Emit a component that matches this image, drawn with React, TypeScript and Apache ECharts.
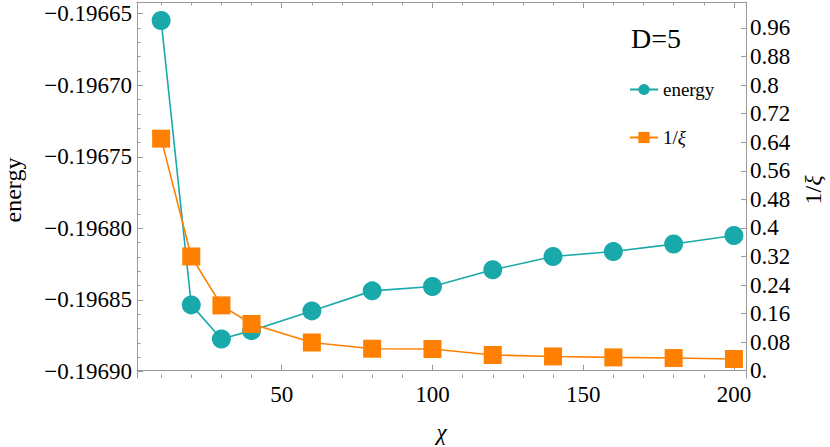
import React, { useEffect, useRef } from "react";
import * as echarts from "echarts";

const chi = [10, 20, 30, 40, 60, 80, 100, 120, 140, 160, 180, 200];
const energy = [
  -0.1966547, -0.1968535, -0.1968773, -0.1968715, -0.1968577, -0.1968437,
  -0.1968407, -0.196829, -0.1968197, -0.1968162, -0.196811, -0.196805,
];
const invXi = [0.65, 0.32, 0.183, 0.131, 0.079, 0.0616, 0.0608, 0.044, 0.04, 0.0373, 0.0355, 0.0328];

const xMajorTicks = [50, 100, 150, 200];
const xMinorTicks = [10, 20, 30, 40, 60, 70, 80, 90, 110, 120, 130, 140, 160, 170, 180, 190];
const energyMajorTicks = [-0.1969, -0.19685, -0.1968, -0.19675, -0.1967, -0.19665];
const energyMinorTicks = [
  -0.19689, -0.19688, -0.19687, -0.19686, -0.19684, -0.19683, -0.19682, -0.19681,
  -0.19679, -0.19678, -0.19677, -0.19676, -0.19674, -0.19673, -0.19672, -0.19671,
  -0.19669, -0.19668, -0.19667, -0.19666,
];
const xiTicks = [0, 0.08, 0.16, 0.24, 0.32, 0.4, 0.48, 0.56, 0.64, 0.72, 0.8, 0.88, 0.96];
const xiTickLabels = ["0.", "0.08", "0.16", "0.24", "0.32", "0.4", "0.48", "0.56", "0.64", "0.72", "0.8", "0.88", "0.96"];

const FONT = "Liberation Serif";
const AXIS_COLOR = "#9a9a9a";
const TEAL = "#1aa9aa";
const ORANGE = "#ff8000";
const TICK_FONT = 23;

export default function App() {
  const ref = useRef<HTMLDivElement>(null);
  useEffect(() => {
    document.body.style.margin = "0";
    if (!ref.current) return;
    const chart = echarts.init(ref.current, null, { renderer: "svg" });
    const xRange = { min: 2, max: 204 };
    const eRange = { min: -0.1969046, max: -0.1966418 };
    const xiRange = { min: -0.0204, max: 1.0328 };
    const hiddenLabel = { show: false };
    const line = { show: true, lineStyle: { color: AXIS_COLOR, width: 1 } };
    const minorX = (position: string) => ({
      type: "value",
      position,
      ...xRange,
      axisLine: { show: false },
      axisTick: { show: true, inside: true, length: 3.5, customValues: xMinorTicks, lineStyle: { color: AXIS_COLOR } },
      axisLabel: hiddenLabel,
      splitLine: { show: false },
    });
    chart.setOption({
      animation: false,
      backgroundColor: "#ffffff",
      textStyle: { fontFamily: FONT },
      title: {
        text: "D=5",
        left: 626,
        top: 19,
        textStyle: { fontFamily: FONT, fontSize: 28, fontWeight: "normal", color: "#000" },
      },
      legend: {
        orient: "vertical",
        left: 624,
        top: 75,
        itemWidth: 28,
        itemHeight: 14,
        itemGap: 29,
        textStyle: {
          fontFamily: FONT,
          fontSize: 19,
          color: "#000",
          rich: {
            n: { fontFamily: FONT, fontSize: 19, color: "#000" },
            i: { fontFamily: FONT, fontSize: 19, fontStyle: "italic", color: "#000" },
          },
        },
        formatter: (name: string) => (name === "1/ξ" ? "{n|1/}{i|ξ}" : `{n|${name}}`),
        data: ["energy", "1/ξ"],
      },
      grid: { left: 137, right: 84, top: 2, bottom: 69, containLabel: false, outerBoundsMode: "none" },
      xAxis: [
        {
          type: "value",
          position: "bottom",
          ...xRange,
          name: "χ",
          nameLocation: "middle",
          nameGap: 43,
          nameTextStyle: { fontFamily: FONT, fontSize: 23, fontStyle: "italic", color: "#000" },
          axisLine: line,
          axisTick: { show: true, inside: true, length: 6, customValues: xMajorTicks, lineStyle: { color: AXIS_COLOR } },
          axisLabel: hiddenLabel,
          splitLine: { show: false },
        },
        minorX("bottom"),
        {
          type: "value",
          position: "top",
          ...xRange,
          axisLine: line,
          axisTick: { show: true, inside: true, length: 6, customValues: xMajorTicks, lineStyle: { color: AXIS_COLOR } },
          axisLabel: hiddenLabel,
          splitLine: { show: false },
        },
        minorX("top"),
      ],
      yAxis: [
        {
          type: "value",
          position: "left",
          ...eRange,
          name: "energy",
          nameLocation: "middle",
          nameGap: 112,
          nameRotate: 90,
          nameTextStyle: { fontFamily: FONT, fontSize: 24, color: "#000" },
          axisLine: line,
          axisTick: { show: true, inside: true, length: 6, customValues: energyMajorTicks, lineStyle: { color: AXIS_COLOR } },
          axisLabel: hiddenLabel,
          splitLine: { show: false },
        },
        {
          type: "value",
          position: "left",
          ...eRange,
          axisLine: { show: false },
          axisTick: { show: true, inside: true, length: 3.5, customValues: energyMinorTicks, lineStyle: { color: AXIS_COLOR } },
          axisLabel: hiddenLabel,
          splitLine: { show: false },
        },
        {
          type: "value",
          position: "right",
          ...xiRange,
          name: "{n|1/}{i|ξ}",
          nameLocation: "middle",
          nameGap: 55,
          nameRotate: 90,
          nameTextStyle: {
            fontFamily: FONT,
            fontSize: 24,
            color: "#000",
            rich: {
              n: { fontFamily: FONT, fontSize: 24, color: "#000" },
              i: { fontFamily: FONT, fontSize: 24, fontStyle: "italic", color: "#000" },
            },
          },
          axisLine: line,
          axisTick: { show: true, inside: true, length: 5, customValues: xiTicks, lineStyle: { color: AXIS_COLOR } },
          axisLabel: hiddenLabel,
          splitLine: { show: false },
        },
      ],
      series: [
        {
          name: "energy",
          type: "line",
          xAxisIndex: 0,
          yAxisIndex: 0,
          data: chi.map((c, i) => [c, energy[i]]),
          symbol: "circle",
          symbolSize: 19,
          itemStyle: { color: TEAL },
          lineStyle: { color: TEAL, width: 1.6 },
        },
        {
          name: "1/ξ",
          type: "line",
          xAxisIndex: 0,
          yAxisIndex: 2,
          data: chi.map((c, i) => [c, invXi[i]]),
          symbol: "rect",
          symbolSize: 18,
          itemStyle: { color: ORANGE },
          lineStyle: { color: ORANGE, width: 1.6 },
        },
      ],
    });

    // Tick labels placed through the axes' own scales
    const xLeft = chart.convertToPixel({ xAxisIndex: 0 }, xRange.min) as number;
    const xRight = chart.convertToPixel({ xAxisIndex: 0 }, xRange.max) as number;
    const yBottom = chart.convertToPixel({ yAxisIndex: 0 }, eRange.min) as number;
    const tickText = (text: string, x: number, y: number, align: string, vAlign: string) => ({
      type: "text",
      x,
      y,
      silent: true,
      style: {
        text,
        fontFamily: FONT,
        fontSize: TICK_FONT,
        fill: "#000",
        align,
        verticalAlign: vAlign,
      },
    });
    const labels: any[] = [];
    xMajorTicks.forEach((v) => {
      labels.push(tickText(String(v), chart.convertToPixel({ xAxisIndex: 0 }, v) as number, yBottom + 5, "center", "top"));
    });
    energyMajorTicks.forEach((v) => {
      labels.push(
        tickText(v.toFixed(5).replace("-", "\u2212"), xLeft - 5, chart.convertToPixel({ yAxisIndex: 0 }, v) as number, "right", "middle")
      );
    });
    xiTicks.forEach((v, i) => {
      labels.push(tickText(xiTickLabels[i], xRight + 4, chart.convertToPixel({ yAxisIndex: 2 }, v) as number, "left", "middle"));
    });
    chart.setOption({ graphic: [{ type: "group", children: labels }] });

    return () => chart.dispose();
  }, []);
  return <div ref={ref} style={{ width: 830, height: 447 }} />;
}
